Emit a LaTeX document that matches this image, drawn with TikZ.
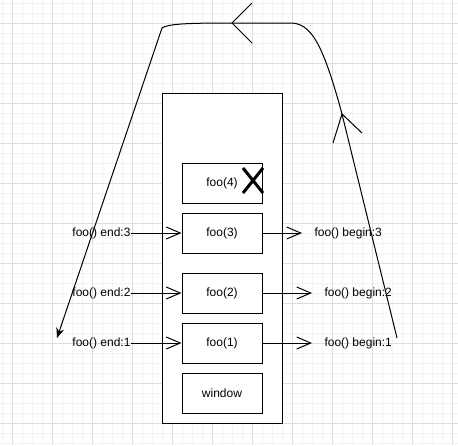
\documentclass[tikz,border=0pt]{standalone}
\usepackage{fontspec}
\setmainfont{Liberation Sans}
\usetikzlibrary{arrows.meta}
\definecolor{minorgrid}{HTML}{F3F3F3}
\definecolor{majorgrid}{HTML}{DEDEDE}

\begin{document}
\begin{tikzpicture}[x=1pt, y=-1pt, line width=1pt,
    font=\fontsize{12}{14}\selectfont,
    >={Straight Barb[length=14pt,width=12pt]},
    frame/.style={draw, minimum width=80pt, minimum height=40pt, inner sep=0pt},
    tag/.style={inner sep=0pt}]
  \useasboundingbox (0,0) rectangle (458,445);
  \fill [white] (0,0) rectangle (458,445);
  \foreach \x in {2,12,...,452} \draw [minorgrid] (\x,0) -- (\x,445);
  \foreach \y in {3,13,...,443} \draw [minorgrid] (0,\y) -- (458,\y);
  \foreach \x in {12,52,...,452} \draw [majorgrid] (\x,0) -- (\x,445);
  \foreach \y in {23,63,...,423} \draw [majorgrid] (0,\y) -- (458,\y);

  \node [draw, fill=white, minimum width=120pt, minimum height=330pt] (stack) at (222,258) {};
  \node [frame] (f4) at (222,183) {foo(4)};
  \node [frame] (f3) at (222,233) {foo(3)};
  \node [frame] (f2) at (222,293) {foo(2)};
  \node [frame] (f1) at (222,343) {foo(1)};
  \node [frame] (win) at (222,393) {window};

  \draw [line width=3pt] (243,168) -- (263,193) (243,193) -- (263,168);

  \node [tag, anchor=east] (e3) at (131,233) {foo() end:3};
  \node [tag, anchor=east] (e2) at (131,293) {foo() end:2};
  \node [tag, anchor=east] (e1) at (131,343) {foo() end:1};
  \node [tag, anchor=west] (b3) at (314,233) {foo() begin:3};
  \node [tag, anchor=west] (b2) at (324,293) {foo() begin:2};
  \node [tag, anchor=west] (b1) at (324,343) {foo() begin:1};

  \draw [->] (e3) -- (f3);
  \draw [->] (e2) -- (f2);
  \draw [->] (e1) -- (f1);
  \draw [->, shorten >=12pt] (f3) -- (b3);
  \draw [->, shorten >=12pt] (f2) -- (b2);
  \draw [->, shorten >=12pt] (f1) -- (b1);

  \coordinate (start) at (397,338);
  \coordinate (up) at (342,114);
  \coordinate (top) at (232,23);
  \coordinate (bend) at (162,28);
  \coordinate (finish) at (57,338);

  \draw [-{Stealth[length=10pt,width=8pt]}] (start) -- (up)
    .. controls (322,40) and (310,23) .. (290,23) -- (top)
    .. controls (185,23) and (168,24) .. (bend) -- (finish);

  \draw (252,3) -- (top) -- (252,43);
  \draw (333,143) -- (up) -- (362,133);
\end{tikzpicture}
\end{document}
